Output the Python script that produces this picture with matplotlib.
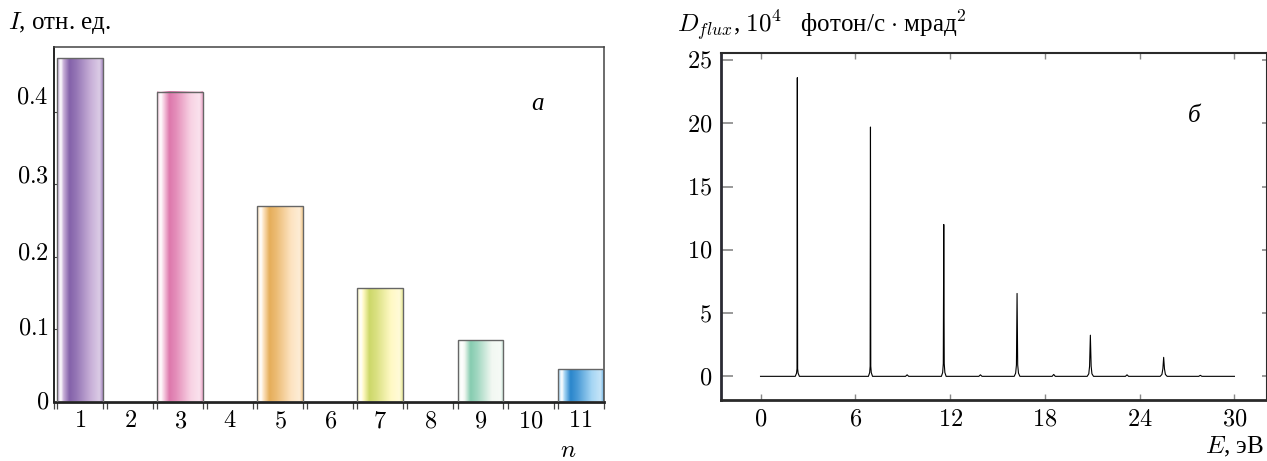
import numpy as np
import matplotlib
matplotlib.use("Agg")
import matplotlib.pyplot as plt
from matplotlib.colors import to_rgb
from matplotlib.transforms import ScaledTranslation, blended_transform_factory

plt.rcParams['font.family'] = ['Liberation Serif', 'DejaVu Serif']
plt.rcParams['mathtext.fontset'] = 'cm'
plt.rcParams['axes.unicode_minus'] = False

# ---- panel а: relative intensity of harmonics ----
harmonic_n = [1, 2, 3, 4, 5, 6, 7, 8, 9, 10, 11]
intensity = [0.474, 0.0, 0.428, 0.0, 0.270, 0.0, 0.157, 0.0, 0.085, 0.0, 0.045]
bar_dark = ['#8462AA', '#555555', '#DE78AC', '#555555', '#E6AE5A', '#555555',
            '#CDD86A', '#555555', '#86CCB0', '#555555', '#2A86CC']
bar_light = ['#C8B0D8', '#555555', '#F8D3E4', '#555555', '#FDE3C0', '#555555',
             '#FFF9C4', '#555555', '#F2F8F2', '#555555', '#A6D6F4']
intensity_ticks = [0, 0.1, 0.2, 0.3, 0.4]
intensity_tick_labels = ['0', '0.1', '0.2', '0.3', '0.4']

# ---- panel б: flux density spectrum ----
energy = [0.0, 2.20, 2.28, 2.31, 2.33, 2.35, 2.38, 2.46,
          6.83, 6.91, 6.94, 6.96, 6.98, 7.01, 7.09,
          9.18, 9.28, 9.38,
          11.45, 11.53, 11.57, 11.60, 11.63, 11.67, 11.75,
          13.82, 13.92, 14.02,
          16.06, 16.15, 16.20, 16.24, 16.28, 16.33, 16.42,
          18.46, 18.56, 18.66,
          20.68, 20.78, 20.83, 20.88, 20.93, 20.98, 21.08,
          23.10, 23.20, 23.30,
          25.30, 25.41, 25.47, 25.52, 25.57, 25.63, 25.74,
          27.74, 27.84, 27.94, 30.0]
flux = [0.0, 0.0, 0.25, 0.6, 23.6, 0.6, 0.25, 0.0,
        0.0, 0.3, 0.8, 19.7, 0.8, 0.3, 0.0,
        0.0, 0.12, 0.0,
        0.0, 0.3, 1.0, 12.0, 1.0, 0.3, 0.0,
        0.0, 0.12, 0.0,
        0.0, 0.25, 0.9, 6.55, 0.9, 0.25, 0.0,
        0.0, 0.15, 0.0,
        0.0, 0.2, 0.8, 3.25, 0.8, 0.2, 0.0,
        0.0, 0.12, 0.0,
        0.0, 0.15, 0.6, 1.5, 0.6, 0.15, 0.0,
        0.0, 0.08, 0.0, 0.0]
energy_ticks = [0, 6, 12, 18, 24, 30]
flux_ticks = [0, 5, 10, 15, 20, 25]

W, H = 1267, 461
fig = plt.figure(figsize=(W / 100, H / 100), dpi=100)


def fx(px):
    return px / W


def fy(py):
    return 1 - py / H


def mix(a, b, t):
    return (1 - t) * a + t * b


def cylinder_shade(dark, light, n=96):
    d = np.array(to_rgb(dark))
    l = np.array(to_rgb(light))
    w = np.ones(3)
    stops = [(0.00, mix(l, d, 0.35)), (0.03, mix(l, w, 0.35)), (0.08, w),
             (0.14, l), (0.27, d), (0.42, mix(d, l, 0.25)), (0.74, l),
             (0.93, mix(l, w, 0.35)), (1.00, mix(l, d, 0.45))]
    pos = [s[0] for s in stops]
    cols = np.array([s[1] for s in stops])
    x = np.linspace(0, 1, n)
    grad = np.stack([np.interp(x, pos, cols[:, k]) for k in range(3)], axis=-1)
    return grad[None, :, :]


def num(s):
    return f'${s}$'


FS = 17.5      # tick numbers
LFS = 18.0     # axis captions
bar_width = 0.917

# ---------------- panel а ----------------
ax1 = fig.add_axes([fx(53.8), fy(401.7), fx(603.6) - fx(53.8), fy(46.7) - fy(401.7)])
bars = ax1.bar(harmonic_n, intensity, width=bar_width, facecolor='none',
               edgecolor='#666666', linewidth=1.0, zorder=3)
for n, h, dk, lt in zip(harmonic_n, intensity, bar_dark, bar_light):
    if h > 0:
        ax1.imshow(cylinder_shade(dk, lt),
                   extent=(n - bar_width / 2, n + bar_width / 2, 0, h),
                   aspect='auto', interpolation='bilinear', zorder=2)

x_left = 0.478
ax1.set_xlim(x_left, 11 + bar_width / 2)
ax1.set_ylim(0, 0.49)
ax1.set_xticks(harmonic_n, [num(n) for n in harmonic_n])
edges = [x_left] + [v for n in harmonic_n for v in (n - bar_width / 2, n + bar_width / 2)]
ax1.set_xticks(edges, minor=True)
ax1.xaxis.remove_overlapping_locs = False
ax1.tick_params(axis='x', which='major', length=0, pad=7.0, labelsize=FS)
ax1.tick_params(axis='x', which='minor', direction='out', length=5, width=0.9,
                color='#444444')
ax1.set_yticks(intensity_ticks)
ax1.set_yticklabels([])
ax1.tick_params(axis='y', which='major', direction='in', length=2, width=0.8,
                color='#444444')
ax1.spines['left'].set_linewidth(1.4)
ax1.spines['left'].set_color('#222222')
ax1.spines['bottom'].set_linewidth(2.0)
ax1.spines['bottom'].set_color('#222222')
for s in ('top', 'right'):
    ax1.spines[s].set_linewidth(1.1)
    ax1.spines[s].set_color('#444444')

# tick labels sit a little above their ticks, more so higher up the axis
label_lift_px = [1.7, 3.0, 5.3, 10.0, 16.7]
ytr = blended_transform_factory(ax1.transAxes, ax1.transData)
for v, lab, lift in zip(intensity_ticks, intensity_tick_labels, label_lift_px):
    off = ScaledTranslation(-5.0 / 100, lift / 100, fig.dpi_scale_trans)
    ax1.text(0, v, num(lab), transform=ytr + off, ha='right', va='center_baseline',
             fontsize=FS)

fig.text(fx(8), fy(29.5), r'$I$, отн. ед.', fontsize=LFS, ha='left', va='baseline')
fig.text(fx(568), fy(451), r'$n$', fontsize=LFS, ha='center', va='center')
fig.text(fx(537), fy(104), 'а', fontsize=LFS, ha='center', va='center',
         family=['Liberation Serif'], style='italic')

# ---------------- panel б ----------------
ax2 = fig.add_axes([fx(721.5), fy(400.0), fx(1266.5) - fx(721.5), fy(53.0) - fy(400.0)])
ax2.plot(energy, flux, color='black', linewidth=0.8)
ax2.set_xlim(-2.47, 32.03)
ax2.set_ylim(-1.87, 25.55)
ax2.set_xticks(energy_ticks, [num(v) for v in energy_ticks])
ax2.set_yticks(flux_ticks, [num(v) for v in flux_ticks])
ax2.set_yticks(flux_ticks, minor=True)
ax2.yaxis.remove_overlapping_locs = False
ax2.tick_params(axis='x', which='major', direction='in', top=True, bottom=True,
                length=4.5, width=1.0, color='#888888', pad=7.0, labelsize=FS)
ax2.tick_params(axis='y', which='major', direction='in', left=True, right=False,
                length=8.6, width=1.2, color='#888888', pad=6.8, labelsize=FS)
ax2.tick_params(axis='y', which='minor', direction='in', left=False, right=True,
                length=3.6, width=1.2, color='#888888')
ax2.spines['left'].set_linewidth(2.0)
ax2.spines['left'].set_color('#2a2a33')
ax2.spines['bottom'].set_linewidth(2.0)
ax2.spines['bottom'].set_color('#2a2a2a')
ax2.spines['top'].set_linewidth(1.5)
ax2.spines['top'].set_color('#2a2a2a')
ax2.spines['right'].set_linewidth(1.5)
ax2.spines['right'].set_color('#2a2a2a')

fig.text(fx(677), fy(33), r'$D_{flux}$, $10^4$   фотон/с $\cdot$ мрад$^2$', fontsize=LFS,
         ha='left', va='baseline')
fig.text(fx(1264), fy(447), r'$E$, эВ', fontsize=LFS, ha='right', va='center')
fig.text(fx(1194), fy(116), 'б', fontsize=LFS, ha='center', va='center',
         family=['Liberation Serif'], style='italic')

fig.savefig('out.png', dpi=100)
